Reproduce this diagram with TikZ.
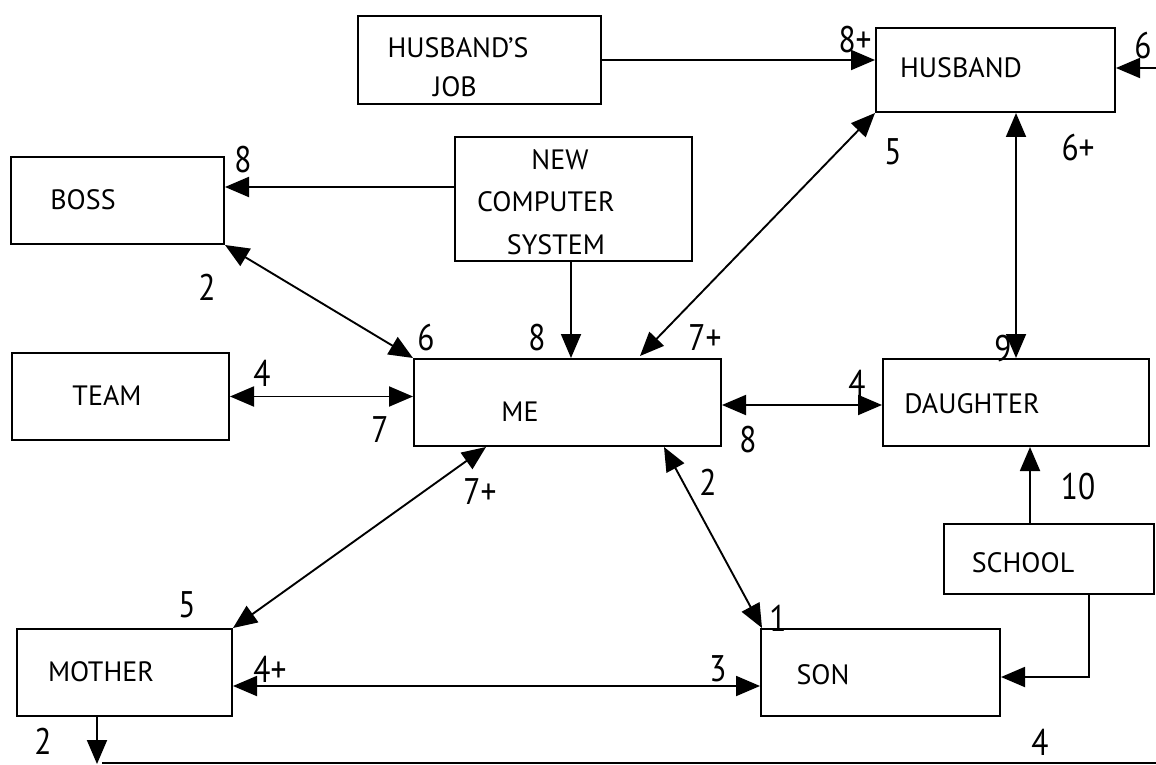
\documentclass[tikz,border=0pt]{standalone}
\usepackage{fontspec}
\setmainfont{PT Sans}
\newfontfamily\lblfont[FakeStretch=0.85]{PT Sans}
\usetikzlibrary{arrows.meta}
\begin{document}
\begin{tikzpicture}[x=1pt,y=-1pt,
  box/.style={draw,line width=2pt,inner sep=0pt,rectangle},
  txt/.style={inner sep=0pt,font=\fontsize{28}{32}\selectfont},
  lbl/.style={inner sep=0pt,font=\lblfont\fontsize{37}{40}\selectfont},
  conn/.style={line width=1.9pt},
  tip/.tip={Triangle[length=24pt,width=20pt]}]
\useasboundingbox (0,0) rectangle (1156,765);
% boxes
\node[box,minimum width=243pt,minimum height=88pt] (hj) at (479.5,60) {};
\node[box,minimum width=239pt,minimum height=84pt] (hb) at (995.5,70) {};
\node[box,minimum width=213pt,minimum height=87pt] (boss) at (117.5,200.5) {};
\node[box,minimum width=237pt,minimum height=124pt] (ncs) at (573.5,199) {};
\node[box,minimum width=217pt,minimum height=87pt] (team) at (120.5,396.5) {};
\node[box,minimum width=307pt,minimum height=87pt] (me) at (567.5,402.5) {};
\node[box,minimum width=266pt,minimum height=87pt] (dau) at (1016,402.5) {};
\node[box,minimum width=210pt,minimum height=70pt] (sch) at (1049,559) {};
\node[box,minimum width=215pt,minimum height=87pt] (mom) at (124.5,672.5) {};
\node[box,minimum width=239pt,minimum height=87pt] (son) at (880.5,672.5) {};
% box texts
\node[txt] (thj1) at (458,48) {HUSBAND’S};
\node[txt] (thj2) at (455,87) {JOB};
\node[txt] (thb) at (961,68) {HUSBAND};
\node[txt] (tboss) at (83,200) {BOSS};
\node[txt] (tn1) at (560,160) {NEW};
\node[txt] (tn2) at (546,202) {COMPUTER};
\node[txt] (tn3) at (556,245) {SYSTEM};
\node[txt] (tteam) at (107,396) {TEAM};
\node[txt] (tme) at (520,412) {ME};
\node[txt] (tdau) at (972,404) {DAUGHTER};
\node[txt] (tsch) at (1023,563) {SCHOOL};
\node[txt] (tmom) at (101,672) {MOTHER};
\node[txt] (tson) at (823,675) {SON};
% free-end coordinates
\coordinate (rin) at (1156,68);
\coordinate (mdown) at (97,764);
\coordinate (bl) at (102,763);
\coordinate (br) at (1156,763);
% connectors
\draw[conn,-tip] (hj.east) -- (hj.east -| hb.west);
\draw[conn,-tip] (rin) -- (rin -| hb.east);
\draw[conn,tip-tip] (dau.north) -- (dau.north |- hb.south);
\draw[conn,tip-tip] (hb.south west) -- ([xshift=72.5pt,yshift=2pt]me.north);
\draw[conn,-tip] ([yshift=12pt]ncs.west) -- ([yshift=12pt]ncs.west -| boss.east);
\draw[conn,-tip] ([xshift=-2.5pt]ncs.south) -- ([xshift=-2.5pt]ncs.south |- me.north);
\draw[conn,tip-tip] (boss.south east) -- (me.north west);
\draw[conn,tip-tip] (team.east) -- (team.east -| me.west);
\draw[conn,tip-tip] ([yshift=-2.5pt]me.east) -- ([yshift=-2.5pt]me.east -| dau.west);
\draw[conn,-tip] ([xshift=-19pt]sch.north) -- ([xshift=-19pt]sch.north |- dau.south);
\draw[conn,tip-tip] ([xshift=73pt]me.south west) -- (mom.north east);
\draw[conn,tip-tip] ([xshift=-58pt]me.south east) -- ([xshift=2pt]son.north west);
\draw[conn,tip-tip] ([yshift=-13.5pt]mom.east) -- ([yshift=-13.5pt]mom.east -| son.west);
\draw[conn,-tip] ([xshift=40pt]sch.south) |- ([yshift=-4.5pt]son.east);
\draw[conn,-tip] ([xshift=-27.5pt]mom.south) -- (mdown);
\draw[conn] (bl) -- (br);
% labels
\node[lbl] (l1) at (855,40) {8+};
\node[lbl] (l2) at (1143,46) {6};
\node[lbl] (l3) at (1078,148) {6+};
\node[lbl] (l4) at (1003,349) {9};
\node[lbl] (l5) at (893,152) {5};
\node[lbl] (l6) at (705,338) {7+};
\node[lbl] (l7) at (243,160) {8};
\node[lbl] (l8) at (537,338) {8};
\node[lbl] (l9) at (207,287) {2};
\node[lbl] (l10) at (426,338) {6};
\node[lbl] (l11) at (262,373) {4};
\node[lbl] (l12) at (380,430) {7};
\node[lbl] (l13) at (857,383) {4};
\node[lbl] (l14) at (748,440) {8};
\node[lbl] (l15) at (1078,487) {10};
\node[lbl] (l16) at (480,492) {7+};
\node[lbl] (l17) at (187,605) {5};
\node[lbl] (l18) at (708,482) {2};
\node[lbl] (l19) at (778,618) {1};
\node[lbl] (l20) at (270,669) {4+};
\node[lbl] (l21) at (718,669) {3};
\node[lbl] (l22) at (1040,742) {4};
\node[lbl] (l23) at (43,741) {2};
\end{tikzpicture}
\end{document}
